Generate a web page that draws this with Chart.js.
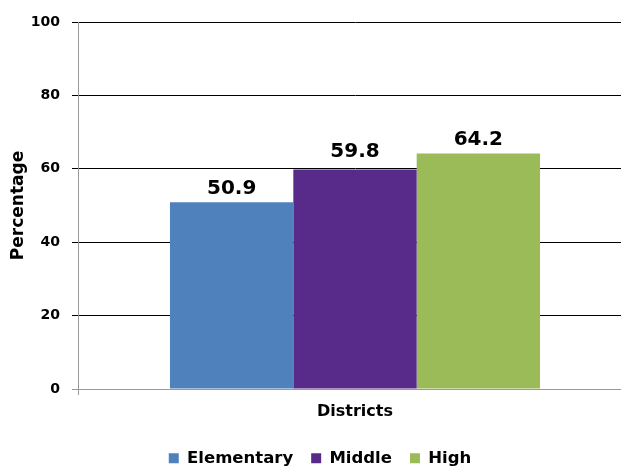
<!DOCTYPE html>
<html>
<head>
<meta charset="utf-8">
<script src="https://cdn.jsdelivr.net/npm/chart.js@4/dist/chart.umd.min.js"></script>
<style>
  html, body { margin: 0; padding: 0; background: #fff; overflow: hidden; }
  #wrap { width: 632px; height: 468px; }
</style>
</head>
<body>
<div id="wrap"><canvas id="chart"></canvas></div>
<script>
const categories = ["Districts"];
const seriesNames = ["Elementary", "Middle", "High"];
const seriesValues = [[50.9], [59.8], [64.2]];
const seriesColors = ["#4F81BD", "#582A8A", "#9BBB59"];
const yTicks = [0, 20, 40, 60, 80, 100];

// extra lift (px) for each value label, the middle one sits clear of the 60 line
const labelLift = [0, 5, 1];

const FONT = "'DejaVu Sans', Verdana, sans-serif";

// value labels above each bar
const barLabels = {
    id: "barLabels",
    afterDatasetsDraw(chart) {
        const ctx = chart.ctx;
        ctx.save();
        ctx.font = "bold 20px " + FONT;
        ctx.fillStyle = "#000";
        ctx.textAlign = "center";
        ctx.textBaseline = "bottom";
        chart.data.datasets.forEach((ds, i) => {
            chart.getDatasetMeta(i).data.forEach((bar, j) => {
                ctx.fillText(ds.data[j].toFixed(1), bar.x, bar.y - 3 - labelLift[i]);
            });
        });
        ctx.restore();
    }
};

// keep the legend box short so it sits near the bottom edge
const legendHeight = {
    id: "legendHeight",
    beforeLayout(chart) {
        const lg = chart.legend;
        if (lg && !lg._fixed) {
            const fit = lg.fit.bind(lg);
            lg.fit = function () { fit(); this.height = 36; };
            lg._fixed = true;
        }
    }
};

new Chart(document.getElementById("chart"), {
    type: "bar",
    data: {
        labels: categories,
        datasets: seriesNames.map((name, i) => ({
            label: name,
            data: seriesValues[i],
            backgroundColor: seriesColors[i],
            borderWidth: 0,
            categoryPercentage: 0.668,
            barPercentage: 1.0,
        })),
    },
    options: {
        responsive: true,
        maintainAspectRatio: false,
        animation: false,
        layout: { padding: { top: 22, left: 8, right: 0, bottom: 0 } },
        plugins: {
            legend: {
                position: "bottom",
                labels: {
                    font: { family: FONT, size: 16.5, weight: "bold" },
                    color: "#000",
                    boxWidth: 10,
                    boxHeight: 10,
                    padding: 18,
                },
            },
            tooltip: { enabled: false },
        },
        scales: {
            x: {
                afterFit(axis) { axis.height = 43; },
                grid: {
                    display: true,
                    drawOnChartArea: false,
                    drawTicks: true,
                    tickLength: 6,
                    offset: true,
                    color: "#999",
                },
                border: { color: "#999", width: 1 },
                ticks: {
                    font: { family: FONT, size: 16, weight: "bold" },
                    color: "#000",
                    padding: 7,
                },
            },
            y: {
                min: 0,
                max: 100,
                afterBuildTicks(axis) { axis.ticks = yTicks.map(v => ({ value: v })); },
                afterFit(axis) { axis.width = 70; },
                grid: {
                    color: ctx => (ctx.tick && ctx.tick.value === 0) ? "#999" : "#000",
                    lineWidth: 1,
                    tickLength: 6,
                    drawTicks: true,
                },
                border: { color: "#999", width: 1 },
                ticks: {
                    font: { family: FONT, size: 14, weight: "bold" },
                    color: "#000",
                    padding: 12,
                },
                title: {
                    display: true,
                    text: "Percentage",
                    font: { family: FONT, size: 17, weight: "bold" },
                    color: "#000",
                    padding: { top: 0, bottom: 3 },
                },
            },
        },
    },
    plugins: [barLabels, legendHeight],
});
</script>
</body>
</html>
